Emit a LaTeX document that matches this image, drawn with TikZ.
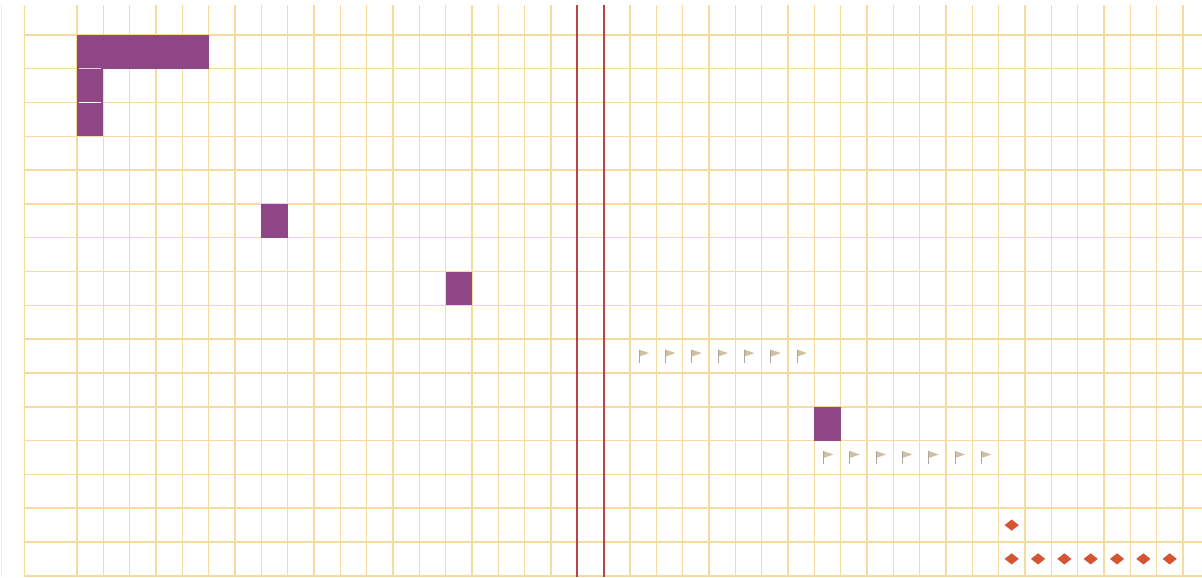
\documentclass[tikz,border=0pt]{standalone}
\usepackage{xcolor}
\usepackage{tikz}
\usetikzlibrary{shapes.geometric}
\definecolor{gridline}{RGB}{246,219,160}
\definecolor{marginred}{RGB}{186,68,72}
\definecolor{plum}{RGB}{142,70,132}
\definecolor{flagtan}{RGB}{208,192,162}
\definecolor{flagpole}{RGB}{172,166,158}
\definecolor{gemred}{RGB}{212,84,52}

\tikzset{
  gem/.style={diamond,fill=gemred,inner sep=0pt,minimum width=0.29cm,minimum height=0.23cm},
  pennant/.pic={
    \fill[flagtan] (-0.08cm,0.13cm) -- (0.12cm,0.06cm) -- (-0.08cm,-0.01cm) -- cycle;
    \draw[flagpole,line width=0.6pt] (-0.08cm,0.13cm) -- (-0.08cm,-0.13cm);
  }
}

\begin{document}
\begin{tikzpicture}[x=0.5266cm,y=-0.676cm]
  \useasboundingbox (-2.924,-1.0355) rectangle (42.727,16.036);

  \draw[gridline!60,line width=0.6pt] (-2.85,-0.89) -- (-2.85,16.036);
  \draw[gridline,line width=0.8pt] (-2,-0.89) -- (-2,16.036);
  \foreach \x in {0,...,42}
    \draw[gridline,line width=0.8pt] (\x,-0.89) -- (\x,16.036);
  \foreach \y in {0,...,16}
    \draw[gridline,line width=0.8pt] (-1.97,\y) -- (42.727,\y);

  \draw[marginred,line width=1.1pt] (19,-0.89) -- (19,16.036);
  \draw[marginred,line width=1.1pt] (20,-0.89) -- (20,16.036);

  \fill[plum] (0,0) rectangle (5,1);
  \fill[plum] (0,0) rectangle (1,3);
  \draw[white!75!plum,line width=0.6pt] (0.08,1) -- (0.92,1);
  \draw[white,line width=0.6pt] (0.08,2) -- (0.92,2);

  \fill[plum] (7,5) rectangle (8,6);
  \fill[plum] (14,7) rectangle (15,8);
  \fill[plum] (28,11) rectangle (29,12);

  \foreach \c in {21,...,27}
    \pic at (\c+0.5,9.5) {pennant};
  \foreach \c in {28,...,34}
    \pic at (\c+0.5,12.5) {pennant};

  \node[gem] (gem-top) at (35.5,14.5) {};
  \foreach \c in {35,...,41}
    \node[gem] (gem-\c) at (\c+0.5,15.5) {};
\end{tikzpicture}
\end{document}
